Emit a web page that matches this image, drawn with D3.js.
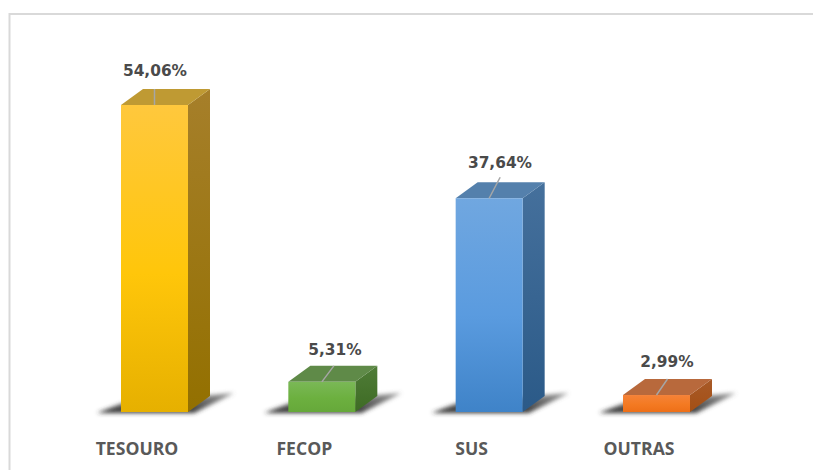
<!DOCTYPE html>
<html><head><meta charset="utf-8">
<script src="https://cdnjs.cloudflare.com/ajax/libs/d3/7.8.5/d3.min.js"></script>
<style>html,body{margin:0;padding:0;background:#fff;overflow:hidden}svg{display:block}</style>
</head><body><svg id="c" width="813" height="470"></svg>
<script>
const categories = ["TESOURO","FECOP","SUS","OUTRAS"];
const values = [54.06,5.31,37.64,2.99];
const valueLabels = ["54,06%","5,31%","37,64%","2,99%"];
const frontTop = ["#ffc83d","#7ab856","#70a7e0","#f58238"];
const frontMid = ["#ffc60a","#6cb03f","#5a9bdf","#f47a22"];
const frontBottom = ["#e6b000","#66a83a","#3f83c8","#ee6f18"];
const topColors = ["#bf9a33","#5f8a48","#5480ac","#b8693c"];
const sideTop = ["#a67f2a","#4f7c37","#45709c","#a85a28"];
const sideBottom = ["#937000","#3e6b24","#2b5a88","#a44f14"];

const W=813,H=470,dx=22,dy=16,baseY=412,barW=67;
const svg=d3.select("#c");
const xc=d3.scalePoint().domain(categories).range([154.5,656.5]);
const y=d3.scaleLinear().domain([0,54.06]).range([baseY,105]);
const defs=svg.append("defs");
const grad=(id,a,b,c)=>{const g=defs.append("linearGradient").attr("id",id).attr("x1",0).attr("y1",0).attr("x2",0).attr("y2",1);
 g.append("stop").attr("offset","0%").attr("stop-color",a);
 if(c)g.append("stop").attr("offset","55%").attr("stop-color",c);
 g.append("stop").attr("offset","100%").attr("stop-color",b);};
categories.forEach((c,i)=>{grad("f"+i,frontTop[i],frontBottom[i],frontMid[i]);grad("s"+i,sideTop[i],sideBottom[i]);});
const sh=defs.append("linearGradient").attr("id","sh").attr("x1",0).attr("y1",1).attr("x2",0).attr("y2",0);
sh.append("stop").attr("offset","0%").attr("stop-color","#2e2e2e").attr("stop-opacity",1);
sh.append("stop").attr("offset","100%").attr("stop-color","#666").attr("stop-opacity",.7);
defs.append("filter").attr("id","blur").attr("x","-30%").attr("y","-60%").attr("width","160%").attr("height","220%")
 .append("feGaussianBlur").attr("stdDeviation",2.2);

svg.append("path").attr("d",`M9.5,${H}V14H${W}`).attr("fill","none").attr("stroke","#d9d9d9").attr("stroke-width",2);

const g=svg.selectAll("g.b").data(categories).join("g").attr("class","b");
const L=c=>xc(c)-barW/2;
g.append("path").attr("d",c=>{const l=L(c),r=l+barW;return `M${l-24},${baseY+1}L${l+2},${baseY-9}L${r+dx+24},${baseY-19}L${r+6},${baseY+1}Z`;})
 .attr("fill","url(#sh)").attr("filter","url(#blur)");
g.append("path").attr("d",(c,i)=>{const r=L(c)+barW,t=y(values[i]);return `M${r},${t}L${r+dx},${t-dy}V${baseY-dy}L${r},${baseY}Z`;})
 .attr("fill",(c,i)=>`url(#s${i})`);
g.append("path").attr("d",(c,i)=>{const l=L(c),t=y(values[i]);return `M${l},${t}L${l+dx},${t-dy}H${l+barW+dx}L${l+barW},${t}Z`;})
 .attr("fill",(c,i)=>topColors[i]);
g.append("rect").attr("x",L).attr("y",(c,i)=>y(values[i])).attr("width",barW).attr("height",(c,i)=>baseY-y(values[i]))
 .attr("fill",(c,i)=>`url(#f${i})`);
const labelX=[155,335,500,667];
g.append("line").attr("x1",xc).attr("y1",(c,i)=>y(values[i]))
 .attr("x2",(c,i)=>xc(c)+[0,12,11,11][i]).attr("y2",(c,i)=>y(values[i])-[16,16,21,16][i])
 .attr("stroke","#a6a6a6").attr("stroke-width",1.5);
g.append("text").attr("x",(c,i)=>labelX[i]).attr("y",(c,i)=>y(values[i])-[29,27,30,28][i])
 .attr("text-anchor","middle").attr("font-family","'DejaVu Sans'").attr("font-weight",700).attr("font-size",15.4).attr("fill","#4a4a4a")
 .text((c,i)=>valueLabels[i]);
g.append("text").attr("x",c=>xc(c)-17.5).attr("y",455)
 .attr("text-anchor","middle").attr("font-family","'Open Sans'").attr("font-weight",700).attr("font-size",17.6).attr("fill","#595959")
 .text(c=>c);
</script></body></html>
